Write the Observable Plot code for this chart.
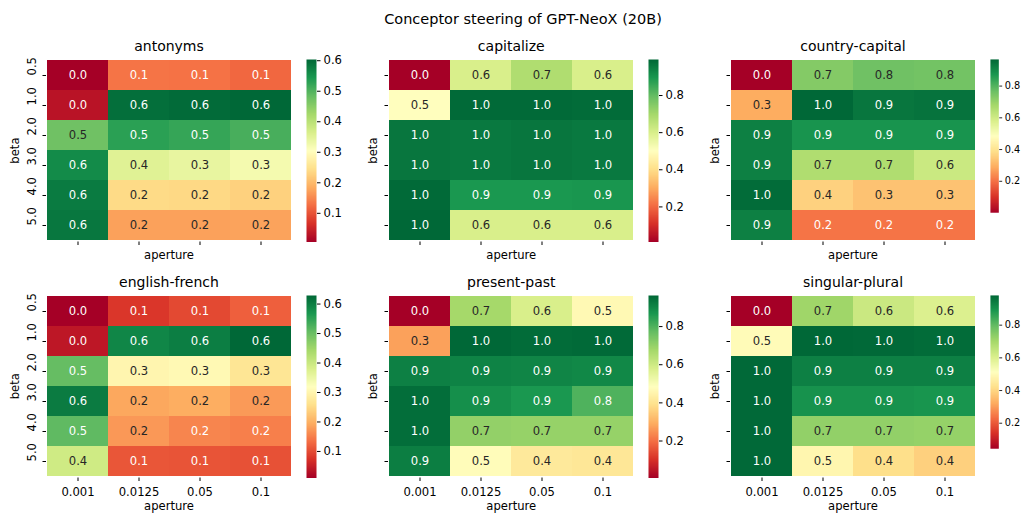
<!DOCTYPE html>
<html><head><meta charset="utf-8">
<script src="https://cdn.jsdelivr.net/npm/d3@7"></script>
<script src="https://cdn.jsdelivr.net/npm/@observablehq/plot@0.6"></script>
<style>
body{margin:0;background:#fff;}
#fig{position:relative;width:1032px;height:519px;overflow:hidden;font-family:"DejaVu Sans",sans-serif;background:#fff;}
.panel{position:absolute;}
#overlay{position:absolute;left:0;top:0;pointer-events:none;}
</style></head><body><div id="fig"></div>
<script>
// ---------- data ----------
const suptitle = "Conceptor steering of GPT-NeoX (20B)";
const apertures = ["0.001", "0.0125", "0.05", "0.1"];
const betas = ["0.5", "1.0", "2.0", "3.0", "4.0", "5.0"];
const taskNames = ["antonyms", "capitalize", "country-capital", "english-french", "present-past", "singular-plural"];
// rows = beta, columns = aperture
const antonyms = [
  [0.006, 0.132, 0.130, 0.120],
  [0.030, 0.595, 0.600, 0.604],
  [0.475, 0.532, 0.523, 0.508],
  [0.560, 0.353, 0.341, 0.323],
  [0.580, 0.239, 0.237, 0.227],
  [0.585, 0.173, 0.173, 0.175]
];
const capitalize = [
  [0.011, 0.600, 0.680, 0.600],
  [0.500, 0.990, 0.990, 0.985],
  [0.965, 0.960, 0.965, 0.960],
  [0.965, 0.960, 0.965, 0.960],
  [0.990, 0.896, 0.896, 0.900],
  [0.994, 0.600, 0.600, 0.600]
];
const countryCapital = [
  [0.002, 0.730, 0.760, 0.755],
  [0.290, 0.968, 0.940, 0.945],
  [0.920, 0.880, 0.880, 0.880],
  [0.920, 0.660, 0.660, 0.610],
  [0.960, 0.360, 0.330, 0.330],
  [0.920, 0.205, 0.205, 0.205]
];
const englishFrench = [
  [0.010, 0.078, 0.097, 0.120],
  [0.040, 0.590, 0.600, 0.629],
  [0.505, 0.300, 0.307, 0.270],
  [0.604, 0.190, 0.196, 0.177],
  [0.510, 0.175, 0.157, 0.151],
  [0.394, 0.110, 0.108, 0.105]
];
const presentPast = [
  [0.006, 0.676, 0.580, 0.465],
  [0.274, 0.963, 0.955, 0.960],
  [0.915, 0.910, 0.905, 0.900],
  [0.952, 0.886, 0.867, 0.800],
  [0.952, 0.705, 0.700, 0.700],
  [0.920, 0.475, 0.418, 0.410]
];
const singularPlural = [
  [0.044, 0.710, 0.635, 0.600],
  [0.500, 0.982, 0.980, 0.975],
  [0.980, 0.935, 0.935, 0.935],
  [0.980, 0.900, 0.900, 0.895],
  [0.980, 0.730, 0.730, 0.725],
  [0.980, 0.485, 0.420, 0.390]
];
const taskValues = [antonyms, capitalize, countryCapital, englishFrench, presentPast, singularPlural];
const cbarTicksFine = [0.1, 0.2, 0.3, 0.4, 0.5, 0.6];
const cbarTicksCoarse = [0.2, 0.4, 0.6, 0.8];
const taskTicks = [cbarTicksFine, cbarTicksCoarse, cbarTicksCoarse, cbarTicksFine, cbarTicksCoarse, cbarTicksCoarse];

// ---------- style / layout ----------
const RDYLGN = ["#a50026","#d73027","#f46d43","#fdae61","#fee08b","#ffffbf","#d9ef8b","#a6d96a","#66bd63","#1a9850","#006837"];
const interp = d3.piecewise(d3.interpolateRgb, RDYLGN);
const FONT = "DejaVu Sans";
const SMALL = 11.6, TITLE = 14, SUPT = 14.5;
const colLeft = [46, 388.3, 730];
const rowTop = [59.3, 295];
const W = 246, H = 182.5;
const ML = 40, MB = 30;
const CBW = 10, CBGAP = 14;

function lum(c) {
  const {r, g, b} = d3.rgb(c);
  const f = v => { v /= 255; return v <= 0.03928 ? v / 12.92 : Math.pow((v + 0.055) / 1.055, 2.4); };
  return 0.2126 * f(r) + 0.7152 * f(g) + 0.0722 * f(b);
}

const fig = document.getElementById("fig");
const baseStyle = {fontFamily: FONT, fontSize: SMALL + "px", background: "transparent", overflow: "visible", color: "#000"};

taskNames.forEach((name, k) => {
  const r = Math.floor(k / 3), c = k % 3;
  const vals = taskValues[k];
  const cells = betas.flatMap((b, i) => apertures.map((a, j) => ({beta: b, aperture: a, value: vals[i][j]})));
  const [vmin, vmax] = d3.extent(cells, d => d.value);
  const colorOpts = {type: "linear", domain: [vmin, vmax], interpolate: interp};
  const isDark = d => lum(interp((d.value - vmin) / (vmax - vmin))) > 0.408;
  const isBottom = r === 1, isFirst = c === 0;

  const heat = Plot.plot({
    width: W + ML, height: H + MB,
    marginLeft: ML, marginRight: 0, marginTop: 0, marginBottom: MB,
    style: baseStyle,
    x: {type: "band", domain: apertures, padding: 0},
    y: {type: "band", domain: betas, padding: 0},
    color: colorOpts,
    marks: [
      Plot.cell(cells, {x: "aperture", y: "beta", fill: "value", shapeRendering: "crispEdges"}),
      Plot.text(cells, {x: "aperture", y: "beta", text: d => d.value.toFixed(1), fill: "#262626", filter: isDark}),
      Plot.text(cells, {x: "aperture", y: "beta", text: d => d.value.toFixed(1), fill: "white", filter: d => !isDark(d)}),
      Plot.axisX({tickSize: 3.5, tickPadding: 5.9, tickFormat: isBottom ? (d => d) : (() => ""), label: null}),
      Plot.axisY({tickSize: 3.5, tickFormat: () => "", label: null}),
      isFirst ? Plot.text(betas, {y: d => d, text: d => d, frameAnchor: "left", rotate: -90, lineAnchor: "bottom", dx: -11, fill: "#000"}) : null
    ]
  });
  const hd = document.createElement("div");
  hd.className = "panel";
  hd.style.left = (colLeft[c] - ML) + "px";
  hd.style.top = rowTop[r] + "px";
  hd.appendChild(heat);
  fig.appendChild(hd);

  const gradMark = Plot.raster
    ? Plot.raster({x1: 0, x2: 1, y1: vmin, y2: vmax, width: 1, height: 256, fill: (x, y) => y})
    : Plot.rect(d3.range(200), {x1: 0, x2: 1, y1: i => vmin + (vmax - vmin) * i / 200, y2: i => vmin + (vmax - vmin) * (i + 1.5) / 200, fill: i => vmin + (vmax - vmin) * (i + 0.5) / 200});
  const cbar = Plot.plot({
    width: CBW + 40, height: H,
    marginLeft: 0, marginRight: 40, marginTop: 0, marginBottom: 0,
    style: baseStyle,
    x: {domain: [0, 1], axis: null},
    y: {domain: [vmin, vmax]},
    color: colorOpts,
    marks: [
      gradMark,
      Plot.axisY(taskTicks[k], {anchor: "right", tickSize: 3.5, tickPadding: 3.5, tickFormat: ".1f", label: null})
    ]
  });
  const cd = document.createElement("div");
  cd.className = "panel";
  cd.style.left = (colLeft[c] + W + CBGAP) + "px";
  cd.style.top = rowTop[r] + "px";
  cd.appendChild(cbar);
  fig.appendChild(cd);
});

// ---------- titles and axis labels ----------
const svg = d3.select(fig).append("svg").attr("id", "overlay").attr("width", 1032).attr("height", 519)
  .style("font-family", FONT).attr("fill", "#000");
svg.append("text").attr("x", 523).attr("y", 23.5).attr("text-anchor", "middle").style("font-size", SUPT + "px").text(suptitle);
taskNames.forEach((name, k) => {
  const r = Math.floor(k / 3), c = k % 3;
  const cx = colLeft[c] + W / 2;
  svg.append("text").attr("x", cx).attr("y", rowTop[r] - 8.5).attr("text-anchor", "middle").style("font-size", TITLE + "px").text(name);
  svg.append("text").attr("x", cx).attr("y", rowTop[r] + H + (r === 0 ? 17.2 : 32.7)).attr("text-anchor", "middle").style("font-size", SMALL + "px").text("aperture");
  const bx = colLeft[c] - (c === 0 ? 26.7 : 11);
  svg.append("text").attr("transform", `translate(${bx},${rowTop[r] + H / 2}) rotate(-90)`).attr("text-anchor", "middle").style("font-size", SMALL + "px").text("beta");
});
</script></body></html>
